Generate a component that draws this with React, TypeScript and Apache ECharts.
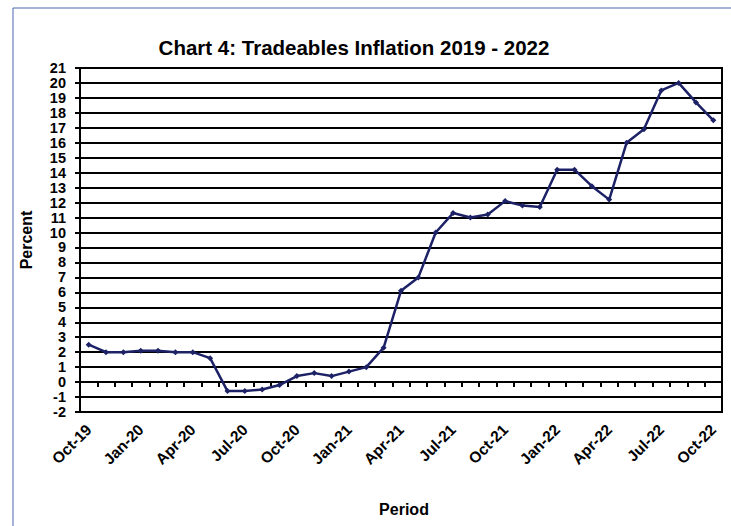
import React, { useEffect, useRef } from "react";
import * as echarts from "echarts";

const categories = [
  "Oct-19", "Nov-19", "Dec-19", "Jan-20", "Feb-20", "Mar-20", "Apr-20", "May-20", "Jun-20", "Jul-20",
  "Aug-20", "Sep-20", "Oct-20", "Nov-20", "Dec-20", "Jan-21", "Feb-21", "Mar-21", "Apr-21", "May-21",
  "Jun-21", "Jul-21", "Aug-21", "Sep-21", "Oct-21", "Nov-21", "Dec-21", "Jan-22", "Feb-22", "Mar-22",
  "Apr-22", "May-22", "Jun-22", "Jul-22", "Aug-22", "Sep-22", "Oct-22",
];

const inflation = [
  2.5, 2.0, 2.0, 2.1, 2.1, 2.0, 2.0, 1.6, -0.6, -0.6,
  -0.5, -0.2, 0.4, 0.6, 0.4, 0.7, 1.0, 2.3, 6.1, 7.0,
  10.0, 11.3, 11.0, 11.2, 12.1, 11.8, 11.7, 14.2, 14.2, 13.1,
  12.2, 16.0, 16.9, 19.5, 20.0, 18.7, 17.5,
];

const titleText = "Chart 4: Tradeables Inflation 2019 - 2022";
const yName = "Percent";
const xName = "Period";

const FONT = "'Liberation Sans', Arial, sans-serif";

export default function App() {
  const ref = useRef<HTMLDivElement>(null);
  useEffect(() => {
    if (!ref.current) return;
    const chart = echarts.init(ref.current, null, { renderer: "svg" });
    chart.setOption({
      animation: false,
      backgroundColor: "#ffffff",
      graphic: [
        {
          type: "rect",
          shape: { x: 13, y: 8, width: 760, height: 540 },
          style: { fill: "none", stroke: "#4a68ad", lineWidth: 1 },
          silent: true,
        },
        {
          type: "text",
          x: 354,
          y: 47,
          style: {
            text: titleText,
            font: `bold 20.5px ${FONT}`,
            fill: "#000",
            textAlign: "center",
            textVerticalAlign: "middle",
          },
        },
        {
          type: "text",
          x: 404,
          y: 509,
          style: {
            text: xName,
            font: `bold 16px ${FONT}`,
            fill: "#000",
            textAlign: "center",
            textVerticalAlign: "middle",
          },
        },
        {
          type: "text",
          x: 26,
          y: 240,
          rotation: Math.PI / 2,
          style: {
            text: yName,
            font: `bold 16px ${FONT}`,
            fill: "#000",
            textAlign: "center",
            textVerticalAlign: "middle",
          },
        },
      ],
      grid: {
        left: 80,
        right: 9,
        top: 68,
        bottom: 114,
        show: true,
        borderColor: "#000",
        borderWidth: 2,
        backgroundColor: "transparent",
      },
      xAxis: [
        {
          type: "category",
          data: categories,
          position: "bottom",
          boundaryGap: true,
          axisLine: { onZero: false, show: true, lineStyle: { color: "#000", width: 2 } },
          axisTick: { show: false },
          axisLabel: {
            interval: 2,
            rotate: 45,
            color: "#000",
            fontFamily: FONT,
            fontWeight: "bold",
            fontSize: 15.5,
            margin: 15,
          },
        },
        {
          type: "category",
          data: categories,
          position: "bottom",
          boundaryGap: true,
          axisLine: { onZero: true, show: true, lineStyle: { color: "#000", width: 2 } },
          axisTick: {
            show: true,
            interval: 0,
            length: 5,
            lineStyle: { color: "#000", width: 2 },
          },
          axisLabel: { show: false },
        },
      ],
      yAxis: {
        type: "value",
        min: -2,
        max: 21,
        interval: 1,
        axisLine: { show: true, lineStyle: { color: "#000", width: 2 } },
        axisTick: { show: true, length: 5, lineStyle: { color: "#000", width: 2 } },
        splitLine: { show: true, lineStyle: { color: "#000", width: 2 } },
        axisLabel: {
          color: "#000",
          fontFamily: FONT,
          fontWeight: "bold",
          fontSize: 14.5,
          margin: 14,
        },
      },
      series: [
        {
          type: "line",
          data: inflation,
          xAxisIndex: 0,
          symbol: "diamond",
          symbolSize: 6,
          lineStyle: { color: "#1d2266", width: 2.5 },
          itemStyle: { color: "#1d2266" },
        },
      ],
    });
    return () => chart.dispose();
  }, []);
  return (
    <div
      ref={ref}
      style={{ position: "fixed", left: 0, top: 0, width: 731, height: 526 }}
    />
  );
}
